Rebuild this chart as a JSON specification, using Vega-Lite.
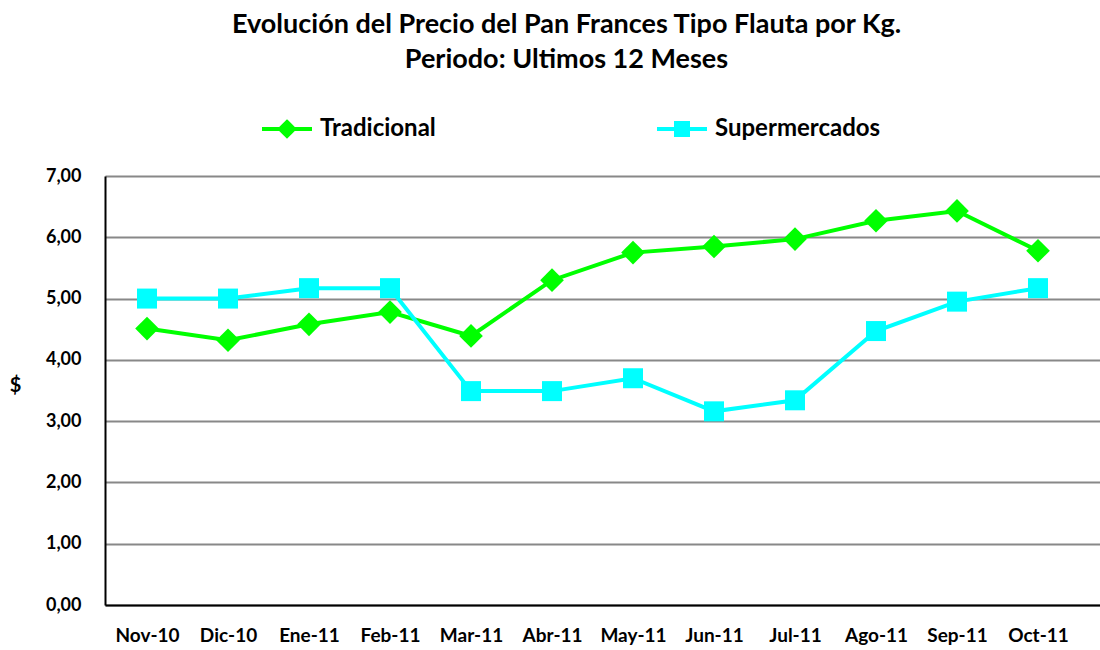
{
  "$schema": "https://vega.github.io/schema/vega-lite/v6.json",
  "width": 995,
  "height": 429,
  "autosize": {"type": "none"},
  "padding": {"left": 105, "top": 176, "right": 0, "bottom": 45},
  "background": "white",
  "title": {
    "text": ["Evolución del Precio del Pan Frances Tipo Flauta por Kg.", "Periodo: Ultimos 12 Meses"],
    "font": "Lato",
    "fontSize": 27,
    "fontWeight": "bold",
    "color": "black",
    "anchor": "middle",
    "frame": "group",
    "dx": -36,
    "offset": 28,
    "lineHeight": 35
  },
  "data": {
    "values": [
      {"mes": "Nov-10", "serie": "Tradicional", "precio": 4.51},
      {"mes": "Dic-10", "serie": "Tradicional", "precio": 4.32},
      {"mes": "Ene-11", "serie": "Tradicional", "precio": 4.58},
      {"mes": "Feb-11", "serie": "Tradicional", "precio": 4.78},
      {"mes": "Mar-11", "serie": "Tradicional", "precio": 4.39},
      {"mes": "Abr-11", "serie": "Tradicional", "precio": 5.30},
      {"mes": "May-11", "serie": "Tradicional", "precio": 5.75},
      {"mes": "Jun-11", "serie": "Tradicional", "precio": 5.85},
      {"mes": "Jul-11", "serie": "Tradicional", "precio": 5.97},
      {"mes": "Ago-11", "serie": "Tradicional", "precio": 6.27},
      {"mes": "Sep-11", "serie": "Tradicional", "precio": 6.43},
      {"mes": "Oct-11", "serie": "Tradicional", "precio": 5.78},
      {"mes": "Nov-10", "serie": "Supermercados", "precio": 5.00},
      {"mes": "Dic-10", "serie": "Supermercados", "precio": 5.00},
      {"mes": "Ene-11", "serie": "Supermercados", "precio": 5.17},
      {"mes": "Feb-11", "serie": "Supermercados", "precio": 5.17},
      {"mes": "Mar-11", "serie": "Supermercados", "precio": 3.49},
      {"mes": "Abr-11", "serie": "Supermercados", "precio": 3.49},
      {"mes": "May-11", "serie": "Supermercados", "precio": 3.70},
      {"mes": "Jun-11", "serie": "Supermercados", "precio": 3.16},
      {"mes": "Jul-11", "serie": "Supermercados", "precio": 3.34},
      {"mes": "Ago-11", "serie": "Supermercados", "precio": 4.47},
      {"mes": "Sep-11", "serie": "Supermercados", "precio": 4.95},
      {"mes": "Oct-11", "serie": "Supermercados", "precio": 5.17}
    ]
  },
  "encoding": {
    "x": {
      "field": "mes",
      "type": "ordinal",
      "sort": ["Nov-10", "Dic-10", "Ene-11", "Feb-11", "Mar-11", "Abr-11", "May-11", "Jun-11", "Jul-11", "Ago-11", "Sep-11", "Oct-11"],
      "scale": {"type": "point", "padding": 0.642, "align": 0.404},
      "axis": {
        "title": null,
        "labelAngle": 0,
        "labelFont": "Lato",
        "labelFontSize": 19,
        "labelFontWeight": "bold",
        "labelColor": "black",
        "labelPadding": 21,
        "ticks": false,
        "tickSize": 0,
        "domainColor": "black",
        "domainWidth": 2,
        "grid": false
      }
    },
    "y": {
      "field": "precio",
      "type": "quantitative",
      "scale": {"domain": [0, 7], "nice": false},
      "axis": {
        "title": "$",
        "titleAngle": 0,
        "titleX": -90,
        "titleY": 209,
        "titleAlign": "center",
        "titleBaseline": "middle",
        "titleFont": "Lato",
        "titleFontSize": 20,
        "titleFontWeight": "bold",
        "titleColor": "black",
        "values": [0, 1, 2, 3, 4, 5, 6, 7],
        "labelExpr": "replace(format(datum.value, '.2f'), '.', ',')",
        "labelFont": "Lato",
        "labelFontSize": 18,
        "labelFontWeight": "bold",
        "labelColor": "black",
        "labelPadding": 24,
        "ticks": false,
        "tickSize": 0,
        "domainColor": "black",
        "domainWidth": 2,
        "gridColor": "#888888",
        "gridWidth": 2
      }
    }
  },
  "layer": [
    {
      "transform": [{"filter": "datum.serie === 'Tradicional'"}],
      "encoding": {
        "color": {
          "field": "serie",
          "type": "nominal",
          "scale": {"domain": ["Tradicional"], "range": ["#00ff00"]},
          "legend": {
            "title": null,
            "orient": "none",
            "legendX": 155,
            "legendY": -74,
            "symbolType": "M-1,0H1M0,-0.28L0.28,0L0,0.28L-0.28,0Z",
            "symbolSize": 2500,
            "symbolStrokeWidth": 4,
            "labelFont": "Lato",
            "labelFontSize": 24,
            "labelFontWeight": "bold",
            "labelColor": "black",
            "labelOffset": 6,
            "labelLimit": 400,
            "encode": {
              "symbols": {
                "update": {
                  "shape": {"value": "M-1,0H1M0,-0.28L0.28,0L0,0.28L-0.28,0Z"},
                  "fill": {"value": "#00ff00"},
                  "stroke": {"value": "#00ff00"},
                  "size": {"value": 2500},
                  "strokeWidth": {"value": 4},
                  "opacity": {"value": 1}
                }
              }
            }
          }
        }
      },
      "layer": [
        {"mark": {"type": "line", "strokeWidth": 4}},
        {"mark": {"type": "point", "filled": true, "opacity": 1, "shape": "diamond", "size": 560}}
      ]
    },
    {
      "transform": [{"filter": "datum.serie === 'Supermercados'"}],
      "encoding": {
        "color": {
          "field": "serie",
          "type": "nominal",
          "scale": {"domain": ["Supermercados"], "range": ["#00ffff"]},
          "legend": {
            "title": null,
            "orient": "none",
            "legendX": 550,
            "legendY": -74,
            "symbolType": "M-1,0H1M-0.24,-0.24H0.24V0.24H-0.24Z",
            "symbolSize": 2500,
            "symbolStrokeWidth": 4,
            "labelFont": "Lato",
            "labelFontSize": 24,
            "labelFontWeight": "bold",
            "labelColor": "black",
            "labelOffset": 6,
            "labelLimit": 400,
            "encode": {
              "symbols": {
                "update": {
                  "shape": {"value": "M-1,0H1M-0.24,-0.24H0.24V0.24H-0.24Z"},
                  "fill": {"value": "#00ffff"},
                  "stroke": {"value": "#00ffff"},
                  "size": {"value": 2500},
                  "strokeWidth": {"value": 4},
                  "opacity": {"value": 1}
                }
              }
            }
          }
        }
      },
      "layer": [
        {"mark": {"type": "line", "strokeWidth": 4}},
        {"mark": {"type": "point", "filled": true, "opacity": 1, "shape": "square", "size": 400}}
      ]
    }
  ],
  "resolve": {"scale": {"color": "independent"}},
  "config": {"view": {"stroke": null}}
}
